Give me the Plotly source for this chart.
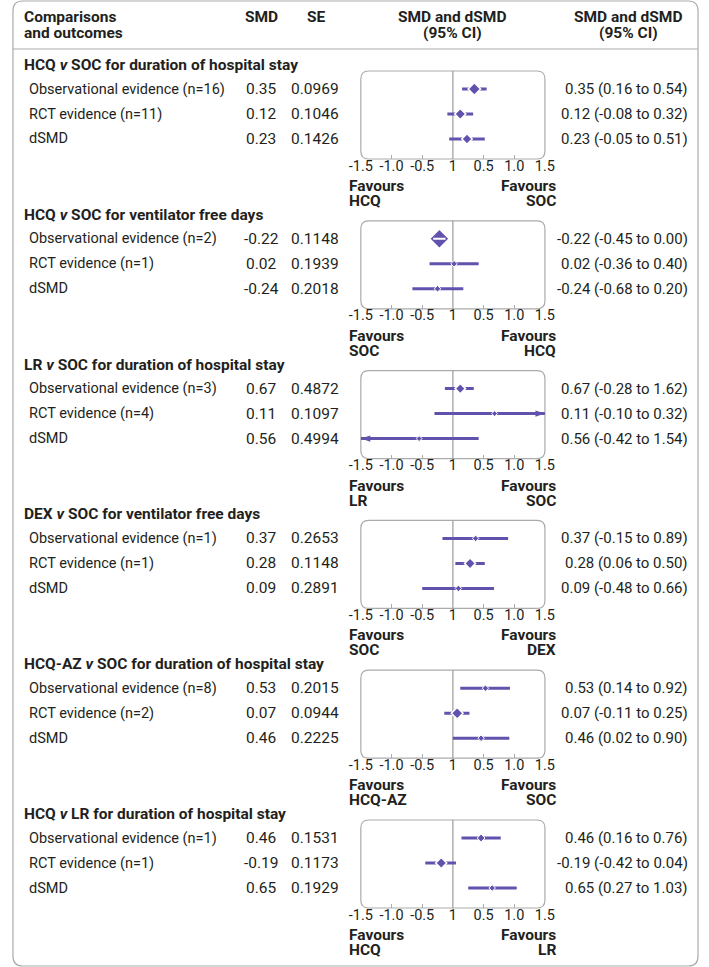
import plotly.graph_objects as go

# Panel titles and the two "Favours" labels under each axis
panel_titles = [
    "HCQ <i>v</i> SOC for duration of hospital stay",
    "HCQ <i>v</i> SOC for ventilator free days",
    "LR <i>v</i> SOC for duration of hospital stay",
    "DEX <i>v</i> SOC for ventilator free days",
    "HCQ-AZ <i>v</i> SOC for duration of hospital stay",
    "HCQ <i>v</i> LR for duration of hospital stay",
]
favours_left = ["HCQ", "SOC", "LR", "SOC", "HCQ-AZ", "HCQ"]
favours_right = ["SOC", "HCQ", "SOC", "DEX", "SOC", "LR"]

row_labels = [
    ["Observational evidence (n=16)", "RCT evidence (n=11)", "dSMD"],
    ["Observational evidence (n=2)", "RCT evidence (n=1)", "dSMD"],
    ["Observational evidence (n=3)", "RCT evidence (n=4)", "dSMD"],
    ["Observational evidence (n=1)", "RCT evidence (n=1)", "dSMD"],
    ["Observational evidence (n=8)", "RCT evidence (n=2)", "dSMD"],
    ["Observational evidence (n=1)", "RCT evidence (n=1)", "dSMD"],
]

# values printed in the table
smd = [[0.35, 0.12, 0.23], [-0.22, 0.02, -0.24], [0.67, 0.11, 0.56],
       [0.37, 0.28, 0.09], [0.53, 0.07, 0.46], [0.46, -0.19, 0.65]]
se = [[0.0969, 0.1046, 0.1426], [0.1148, 0.1939, 0.2018], [0.4872, 0.1097, 0.4994],
      [0.2653, 0.1148, 0.2891], [0.2015, 0.0944, 0.2225], [0.1531, 0.1173, 0.1929]]
ci_lo = [[0.16, -0.08, -0.05], [-0.45, -0.36, -0.68], [-0.28, -0.10, -0.42],
         [-0.15, 0.06, -0.48], [0.14, -0.11, 0.02], [0.16, -0.42, 0.27]]
ci_hi = [[0.54, 0.32, 0.51], [0.00, 0.40, 0.20], [1.62, 0.32, 1.54],
         [0.89, 0.50, 0.66], [0.92, 0.25, 0.90], [0.76, 0.04, 1.03]]

# values as they are drawn in the forest plots
plot_pt = [[0.35, 0.12, 0.23], [-0.22, 0.02, -0.25], [0.12, 0.68, -0.55],
           [0.37, 0.28, 0.09], [0.53, 0.07, 0.46], [0.46, -0.19, 0.64]]
plot_lo = [[0.15, -0.09, -0.06], [-0.32, -0.38, -0.66], [-0.13, -0.30, -1.5],
           [-0.17, 0.04, -0.50], [0.12, -0.14, 0.00], [0.14, -0.45, 0.25]]
plot_hi = [[0.55, 0.33, 0.52], [-0.12, 0.42, 0.17], [0.34, 1.5, 0.42],
           [0.90, 0.52, 0.67], [0.93, 0.27, 0.92], [0.78, 0.05, 1.04]]

tick_vals = [-1.5, -1.0, -0.5, 0, 0.5, 1.0, 1.5]
tick_text = ["-1.5", "-1.0", "-0.5", "1", "0.5", "1.0", "1.5"]

# styling
marker_sizes = [[9.5, 8.5, 8], [15, 5, 5], [8, 4.5, 4.5],
                [5, 8.5, 5], [5, 9, 5], [6, 8.5, 5]]
W, H = 709, 967
PURPLE = "#6352ad"
TEXT = "#231f20"
GREY = "#ababab"
FONT = "Roboto"
BOX_L, BOX_R = 360, 550
TOP0, STEP = 65, 149.8


def px(x):
    return x / W


def py(y):
    return 1 - y / H


def rrect(x0, y0, x1, y1, r):
    # rounded rectangle path in paper coordinates, input in pixels
    pts = [("M", x0 + r, y0), ("L", x1 - r, y0), ("Q", x1, y0, x1, y0 + r),
           ("L", x1, y1 - r), ("Q", x1, y1, x1 - r, y1), ("L", x0 + r, y1),
           ("Q", x0, y1, x0, y1 - r), ("L", x0, y0 + r), ("Q", x0, y0, x0 + r, y0)]
    s = ""
    for p in pts:
        if p[0] == "Q":
            s += f"Q{px(p[1]):.5f},{py(p[2]):.5f} {px(p[3]):.5f},{py(p[4]):.5f} "
        else:
            s += f"{p[0]}{px(p[1]):.5f},{py(p[2]):.5f} "
    return s + "Z"


fig = go.Figure()
annotations = []
shapes = []


def text(x, y, t, size=15.5, anchor="left", bold=False):
    annotations.append(dict(
        x=px(x), y=py(y), xref="paper", yref="paper", text=f"<b>{t}</b>" if bold else t,
        showarrow=False, xanchor=anchor, yanchor="middle", borderpad=0,
        font=dict(family=FONT, size=size, color=TEXT)))


# header
text(11, 17, "Comparisons", bold=True)
text(11, 33, "and outcomes", bold=True)
text(257, 17, "SMD", anchor="center", bold=True)
text(314, 17, "SE", anchor="center", bold=True)
for cx in (455, 636):
    text(cx, 17, "SMD and dSMD", anchor="center", bold=True)
    text(cx, 33, "(95% CI)", anchor="center", bold=True)

shapes.append(dict(type="path", path=rrect(1, 1, 708, 966, 10), xref="paper", yref="paper",
                   line=dict(color=GREY, width=1.2)))
shapes.append(dict(type="line", xref="paper", yref="paper", x0=px(1), x1=px(708),
                   y0=py(49), y1=py(49), line=dict(color=GREY, width=1.2)))

layout_axes = {}
px_per_unit = (BOX_R - BOX_L) / 3.0

for i in range(6):
    t = TOP0 + STEP * i
    n = "" if i == 0 else str(i + 1)
    rows = [0, 1, 2]

    text(11, t, panel_titles[i], size=15.5, bold=True)
    for j in rows:
        ry = t + 24 + 25 * j
        text(17, ry, row_labels[i][j], size=14.5)
        text(257, ry, f"{smd[i][j]:.2f}", anchor="center")
        text(313, ry, f"{se[i][j]:.4f}", anchor="center")
        text(699, ry, f"{smd[i][j]:.2f} ({ci_lo[i][j]:.2f} to {ci_hi[i][j]:.2f})",
             size=15, anchor="right")

    text(347, t + 121, "Favours", bold=True)
    text(347, t + 136, favours_left[i], bold=True)
    text(562, t + 121, "Favours", anchor="right", bold=True)
    text(562, t + 136, favours_right[i], anchor="right", bold=True)

    # box and reference line
    shapes.append(dict(type="path", path=rrect(BOX_L, t + 6, BOX_R, t + 94, 8),
                       xref="paper", yref="paper", line=dict(color=GREY, width=1.2), layer="below"))
    shapes.append(dict(type="line", xref="x" + n, yref="y" + n + " domain", x0=0, x1=0,
                       y0=0, y1=1, line=dict(color="#9c9c9c", width=1.2), layer="below"))

    # CI lines
    lx, ly = [], []
    wx, wy = [], []
    for j in rows:
        lx += [plot_lo[i][j], plot_hi[i][j], None]
        ly += [j, j, None]
        half = 1.3 * marker_sizes[i][j] / 2 / px_per_unit
        if plot_hi[i][j] - plot_pt[i][j] < half and plot_pt[i][j] - plot_lo[i][j] < half:
            wx += [plot_lo[i][j], plot_hi[i][j], None]
            wy += [j, j, None]
    fig.add_trace(go.Scatter(x=lx, y=ly, mode="lines", line=dict(color=PURPLE, width=3),
                             xaxis="x" + n, yaxis="y" + n, hoverinfo="skip", showlegend=False))
    outline = [1.5 if s >= 7 else 1.0 for s in marker_sizes[i]]
    fig.add_trace(go.Scatter(x=plot_pt[i], y=rows, mode="markers",
                             marker=dict(symbol="diamond", size=marker_sizes[i], color=PURPLE,
                                         opacity=1, line=dict(color="white", width=outline)),
                             xaxis="x" + n, yaxis="y" + n, hoverinfo="skip", showlegend=False))
    if wx:
        fig.add_trace(go.Scatter(x=wx, y=wy, mode="lines", line=dict(color="white", width=2),
                                 xaxis="x" + n, yaxis="y" + n, hoverinfo="skip", showlegend=False))

    # arrows where the interval runs off the axis
    ax_, ay_, ang = [], [], []
    for j in rows:
        if plot_hi[i][j] >= 1.5:
            ax_.append(plot_hi[i][j]); ay_.append(j); ang.append(90)
        if plot_lo[i][j] <= -1.5:
            ax_.append(plot_lo[i][j]); ay_.append(j); ang.append(-90)
    if ax_:
        fig.add_trace(go.Scatter(x=ax_, y=ay_, mode="markers", cliponaxis=False,
                                 marker=dict(symbol="arrow", size=10, angle=ang, color=PURPLE),
                                 xaxis="x" + n, yaxis="y" + n, hoverinfo="skip", showlegend=False))

    layout_axes["xaxis" + n] = dict(
        domain=[px(BOX_L), px(BOX_R)], range=[-1.5, 1.5], anchor="y" + n,
        tickvals=tick_vals, ticktext=tick_text, ticks="", showgrid=False, zeroline=False,
        showline=False, tickfont=dict(family=FONT, size=14.5, color=TEXT), ticklabelstandoff=-4,
        minor=dict(tickvals=[-1.0, -0.5, 0.5, 1.0], ticks="inside", ticklen=4,
                   tickcolor=GREY, tickwidth=1.2, showgrid=False),
        fixedrange=True)
    layout_axes["yaxis" + n] = dict(
        domain=[py(t + 94), py(t + 6)], range=[2.8, -0.72], anchor="x" + n,
        visible=False, fixedrange=True)

fig.update_layout(
    width=W, height=H, margin=dict(l=0, r=0, t=0, b=0),
    paper_bgcolor="white", plot_bgcolor="rgba(0,0,0,0)",
    annotations=annotations, shapes=shapes, showlegend=False,
    **layout_axes)

# page body has a default margin; drop it so the figure sits at the window corner
fig.write_html("out.html", config={"displayModeBar": False},
               post_script="document.body.style.margin='0';")
